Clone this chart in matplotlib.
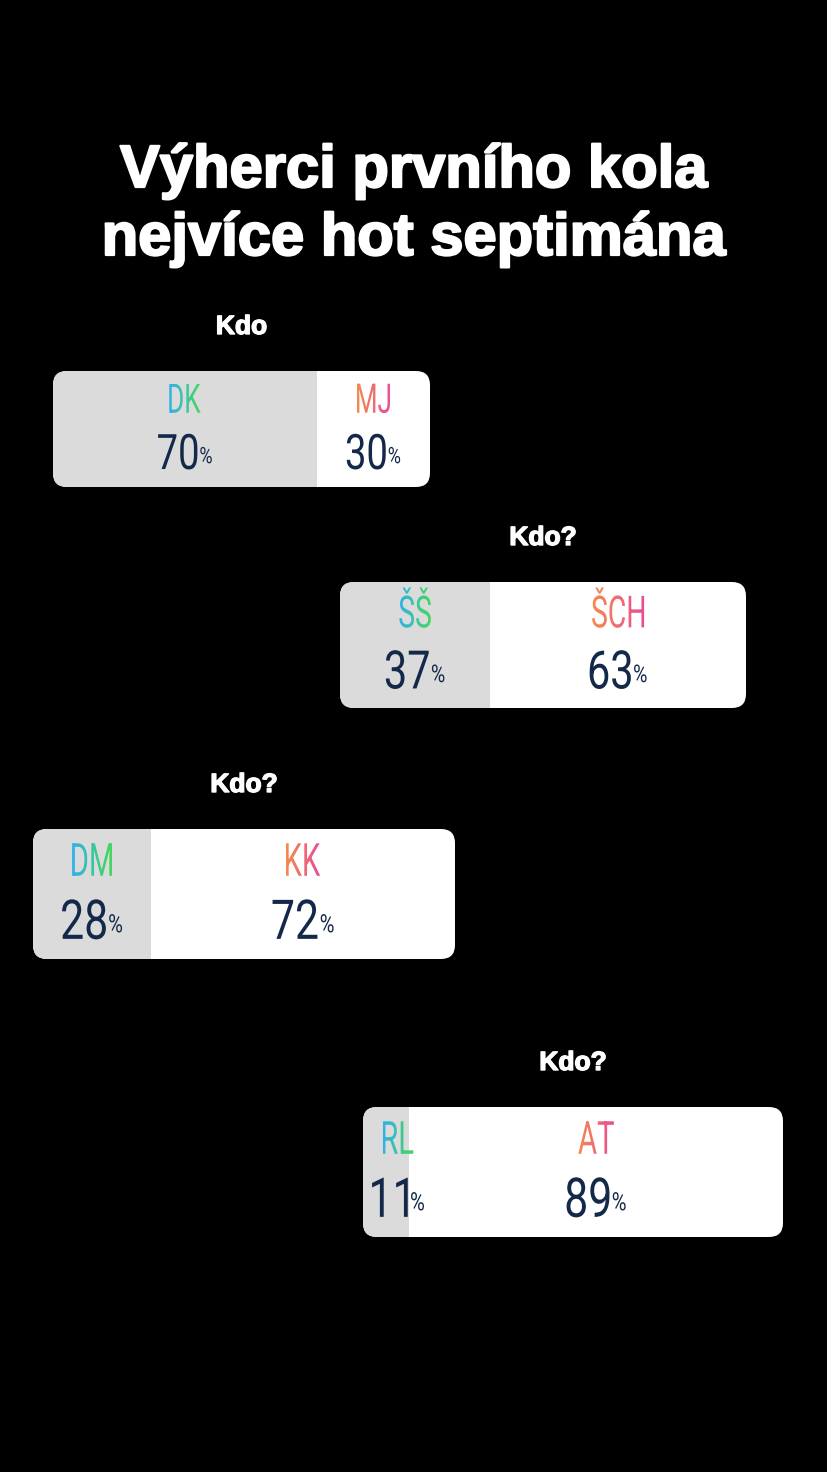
import numpy as np
import matplotlib
matplotlib.use("Agg")
from matplotlib import pyplot as plt
from matplotlib import patheffects
from matplotlib.patches import FancyBboxPatch, PathPatch
from matplotlib.textpath import TextPath
from matplotlib.font_manager import FontProperties
from matplotlib.transforms import Affine2D
from matplotlib.colors import LinearSegmentedColormap

# data
title_lines = ["Výherci prvního kola", "nejvíce hot septimána"]
questions = ["Kdo", "Kdo?", "Kdo?", "Kdo?"]
left_names = ["DK", "ŠŠ", "DM", "RL"]
right_names = ["MJ", "ŠCH", "KK", "AT"]
left_pct = [70, 37, 28, 11]
right_pct = [30, 63, 72, 89]

# layout of the poll stickers in pixels: left, top, width, height
boxes = [(53, 371, 377, 116), (340, 582, 406, 126), (33, 829, 422, 130), (363, 1107, 420, 130)]

W, H = 828, 1472
GRAY = "#dbdbdb"
NAVY = "#14294a"
left_cmap = LinearSegmentedColormap.from_list("lg", ["#2fb2ea", "#46d85a"])
right_cmap = LinearSegmentedColormap.from_list("rg", ["#f58a4e", "#ea4c96"])

fig = plt.figure(figsize=(W / 100, H / 100), dpi=100, facecolor="black")
ax = fig.add_axes([0, 0, 1, 1])
ax.set_facecolor("black")
ax.axis("off")

label_font = FontProperties(family="Roboto", weight="normal")
num_font = FontProperties(family="Roboto", weight="normal")
heavy = [patheffects.withStroke(linewidth=1.6, foreground="white")]


def text_path(s, size, prop, sx, cx, base):
	tp = TextPath((0, 0), s, size=size, prop=prop)
	tp = tp.transformed(Affine2D().scale(sx, 1))
	ext = tp.get_extents()
	return tp.transformed(Affine2D().translate(cx - (ext.x0 + ext.x1) / 2, H - base))


def gradient_text(s, size, cx, base, cmap):
	tp = text_path(s, size, label_font, 0.64, cx, base)
	ext = tp.get_extents()
	patch = PathPatch(tp, transform=ax.transData, facecolor="none", edgecolor="none")
	grad = np.linspace(0, 1, 256).reshape(1, -1)
	im = ax.imshow(grad, cmap=cmap, extent=[ext.x0, ext.x1, ext.y0, ext.y1],
				   aspect="auto", interpolation="bilinear", zorder=5)
	im.set_clip_path(patch)


def percent_text(val, size, cx, base):
	digits = TextPath((0, 0), str(val), size=size, prop=num_font).transformed(Affine2D().scale(0.78, 1))
	pct = TextPath((0, 0), "%", size=size * 0.46, prop=num_font).transformed(Affine2D().scale(0.8, 1))
	de = digits.get_extents()
	pe = pct.get_extents()
	gap = size * 0.06
	total = de.width + gap + pe.width
	x_start = cx - total / 2
	d = digits.transformed(Affine2D().translate(x_start - de.x0, H - base))
	p = pct.transformed(Affine2D().translate(x_start + de.width + gap - pe.x0, H - base + size * 0.12))
	for path in (d, p):
		ax.add_patch(PathPatch(path, facecolor=NAVY, edgecolor="none", zorder=5))


# title
for i, line in enumerate(title_lines):
	ax.text(W / 2, H - (187 + 68 * i), line, color="white", fontsize=43,
			fontweight="bold", family="Liberation Sans", ha="center", va="baseline",
			path_effects=heavy)

for i in range(len(boxes)):
	x0, top, w, h = boxes[i]
	yb = H - top - h
	box = FancyBboxPatch((x0, yb), w, h, boxstyle="round,pad=0,rounding_size=14",
						 facecolor="white", edgecolor="none", zorder=1)
	ax.add_patch(box)
	bars = ax.barh([yb + h / 2], [w * left_pct[i] / 100], height=h, left=x0, color=GRAY, zorder=2)
	for b in bars:
		b.set_clip_path(box)

	split = x0 + w * left_pct[i] / 100
	lc = max((x0 + split) / 2, x0 + 35)
	rc = (split + x0 + w) / 2

	lab_size = 0.25 * h / 0.711
	num_size = 0.30 * h / 0.711
	gradient_text(left_names[i], lab_size, lc, top + 0.36 * h, left_cmap)
	gradient_text(right_names[i], lab_size, rc, top + 0.36 * h, right_cmap)
	percent_text(left_pct[i], num_size, lc, top + 0.845 * h)
	percent_text(right_pct[i], num_size, rc, top + 0.845 * h)

	ax.text(x0 + w / 2, H - (top - 37), questions[i], color="white", fontsize=19,
			fontweight="bold", family="Liberation Sans", ha="center", va="baseline",
			path_effects=[patheffects.withStroke(linewidth=1.0, foreground="white")])

ax.set_xlim(0, W)
ax.set_ylim(0, H)
ax.set_aspect("auto")
fig.savefig("out.png", dpi=100, facecolor="black")
